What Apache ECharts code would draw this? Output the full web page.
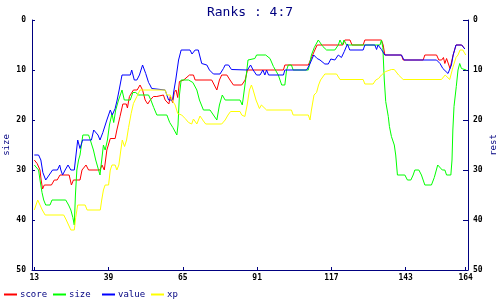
<!DOCTYPE html>
<html>
<head>
<meta charset="utf-8">
<script src="https://cdn.jsdelivr.net/npm/echarts@6/dist/echarts.min.js"></script>
<style>html,body{margin:0;padding:0;background:#fff}#c{width:500px;height:300px}</style>
</head>
<body>
<div id="c"></div>
<script>
var titleText = 'Ranks : 4:7';
var seriesNames = ['score', 'size', 'value', 'xp'];
var xTicks = [13, 39, 65, 91, 117, 143, 164];
var yTicks = [0, 10, 20, 30, 40, 50];

var scoreData = [[13,28],[14,28.7],[15,30],[15.4,32],[15.9,33.8],[16.5,33],[19,33],[20,32],[21,32],[22,31],[25.2,31],[26,33],[26.7,32],[29,32],[29.7,30],[31.1,29],[32,30],[36,30],[36.7,29],[37.5,30],[38.4,26],[39.6,23.7],[41.3,23.7],[41.9,22],[43,19.3],[44,16.8],[45.2,16.8],[45.6,17.6],[46.3,15.3],[47.7,14],[49,14],[50,13],[50.9,14],[51.8,16],[52.7,16.8],[53.6,16],[54.7,15.3],[55.9,15.3],[56.5,15],[58.2,15],[58.8,16],[59.4,16],[60.1,16.8],[60.6,15.3],[61.4,16.5],[62,14.5],[62.6,14],[63.2,15.5],[63.8,12.3],[64.5,12.5],[65.3,12],[66,11.9],[67.3,11],[68.7,11],[69.3,12],[75.1,12],[76.9,14],[77.8,12],[78.6,11],[80.4,11],[81.5,12],[82.7,13],[85.6,13],[86.8,12],[87.6,10],[100.2,10],[100.7,9],[108.9,9],[110.2,7.3],[111.2,6],[112,5],[121,5],[121.7,4],[123.5,4],[124.2,5],[128.1,5],[128.7,4],[134.5,4],[135.1,5],[135.7,7],[141.5,7],[142.1,8],[149.1,8],[149.7,7],[153.8,7],[154.6,8],[155.6,8],[156.2,7.5],[156.7,8.7],[157.3,7.7],[158.5,9.7],[159,9.5],[159.6,7],[160.6,5],[162.6,5],[163.7,5.8]];

var sizeData = [[13,29],[14.5,30],[15,32],[15.7,34.5],[16.3,36],[17,37],[18.5,37],[19.2,36],[24,36],[25,37],[25.8,38],[26.5,39.5],[27,41],[27.4,35],[27.9,30],[28.5,28],[29,27],[29.5,25],[30,23],[32,23],[32.6,24],[33.7,26],[34.5,28],[35.5,30],[36,31],[36.6,28],[37.2,25],[37.8,26],[38.6,24],[39.3,21],[40.2,18.7],[40.8,20.5],[41.5,18],[42.5,16],[43.7,14],[44.5,16],[46.6,16],[47.5,14.5],[48.5,14.5],[49.5,15],[53,15],[53.8,16],[54.8,17.5],[55.9,19],[59.4,19],[60.4,20.5],[61.5,21.5],[62.9,23],[63.3,21],[63.8,15],[64.4,12],[67,12],[68.5,12.5],[69.9,14],[70.8,16],[72.2,18],[74.5,18],[75.7,19],[76.9,20],[77.8,17],[78.8,15],[79.8,16],[85,16],[85.8,17],[86.5,14],[87.2,11],[87.8,8],[88.5,7.7],[90.2,7.7],[90.8,7],[94,7],[95.5,7.7],[96.7,9.3],[98.4,11],[99.6,13],[100.7,13],[101.3,10],[101.9,9],[103,9],[103.6,10],[108.9,10],[110,7],[111,5.5],[112.4,4],[113,4],[114,5.3],[115.3,6],[118.2,6],[119.4,5],[120,4],[120.8,5],[121.4,4],[122.3,5],[134,5],[134.5,4],[135,5.5],[135.5,12],[136,16.3],[136.9,19.3],[137.3,21.3],[138,23.3],[139,25],[139.5,27],[139.8,29],[140.1,31],[142.7,31],[143.6,32],[144.8,32],[145.6,31],[146.2,30],[147.6,30],[148.5,31],[149.7,33],[152,33],[153,31.5],[154.2,29],[154.9,29],[155.8,30],[156.7,30],[157.3,31],[158.8,31],[159.2,28],[159.5,22],[159.9,17.3],[160.7,13.3],[161.3,10],[161.9,8.7],[162.5,9.7],[163.1,10],[164.2,10]];

var valueData = [[13,27],[14.5,27],[15.3,28],[16,30.5],[17,32],[18.2,31],[19.4,30],[21.1,30],[21.9,29],[22.3,30],[22.9,31],[23.8,30],[24.8,29],[25.8,30],[27,30],[28.2,24],[29,25.7],[29.9,24],[33,24],[33.8,22],[35.3,23],[36,24],[37,22.5],[38.4,20],[39.6,18],[40.3,19],[41.3,17.7],[42,16],[42.7,14],[43.7,11],[46.6,11],[47.1,10],[48,12],[48.9,12],[49.8,11],[50.9,9],[52,10.7],[53,12.5],[53.5,13],[54.1,13.7],[54.6,14],[58.8,14],[59.4,15],[60,16],[61.4,16],[61.9,14],[62.5,12],[63,10],[63.5,8],[64.4,6],[67.5,6],[68.2,6.8],[69.3,6],[70.4,6],[71.6,8.7],[73.4,9],[74.3,10],[75.7,10.8],[78,10.8],[79.2,9.7],[79.8,9],[81,9],[82,9.9],[87.6,10],[88.7,9],[89.6,10],[90.8,11],[92,11],[93,10],[93.7,11],[94.3,10],[95,11],[100.2,11],[100.7,10],[108.3,10],[109.3,9],[110.8,7],[112,7.7],[113,8],[114.7,8.8],[115.9,8.8],[116.8,7.8],[118.2,8],[119.4,7],[120.5,7.5],[121.5,6.3],[122.6,4.8],[123.4,6],[128.1,6],[128.7,5],[132.2,5],[132.8,5.9],[133.3,5],[134.5,5.9],[135.7,7],[141.5,7],[142.4,8],[153.8,8],[155,8.7],[156,9.7],[156.7,9.7],[157.8,10.7],[158.3,11],[159,9],[159.6,7],[160.6,5],[162.6,5],[163.7,5.8]];

var xpData = [[13,38],[14.2,36],[15,37],[15.8,38],[16.8,39],[23.3,39],[24.2,40],[25,41],[25.8,42],[27,42],[27.5,39.5],[28.2,37],[30.8,37],[31.5,38],[36.1,38],[36.6,36],[37.2,34],[37.8,33],[39,33],[39.6,30],[40.2,29],[41.3,29],[41.9,30],[42.6,29],[43.3,26],[43.8,24],[44.6,25.3],[45.3,24],[46,21.5],[46.9,18.7],[47.7,16.7],[48.9,15.3],[50,14],[58.8,14],[59.4,15],[60.6,15],[61.2,16],[62.3,17],[63.2,18.7],[64.6,19],[65.8,19.7],[67,20.5],[68.1,20.8],[68.7,19.8],[69.9,20.8],[71,19.2],[72.2,20.2],[73,20.8],[78.6,20.8],[79.8,20],[80.8,19],[81.7,18.3],[85,18.3],[85.6,19],[86.7,19.3],[87.5,17],[88.3,14],[89,13],[89.6,14],[90.6,16],[91.8,17.7],[92.5,17],[93,17],[94.3,18],[103,18],[103.6,19],[108.9,19],[109.5,20],[110,18],[110.9,15],[111.8,14.5],[112.5,13],[113.2,12],[114.7,10.8],[118.8,10.8],[120,11.9],[128.1,11.9],[128.7,12.8],[131.6,12.8],[132.5,12],[133.5,11.7],[134.5,11],[136,10.3],[138,9.9],[139,9.9],[140.5,11],[142.1,11.9],[155.5,11.9],[156.8,11],[158.4,11.9],[159.5,9.5],[160.6,7.5],[161.3,7],[162,6],[163,6],[164,7]];

var colors = ['#ff0000', '#00ff00', '#0000ff', '#ffff00'];
var dataList = [scoreData, sizeData, valueData, xpData];
var navy = '#000080';
var mono = 'DejaVu Sans Mono';

var chart = echarts.init(document.getElementById('c'), null, {renderer: 'canvas'});

var legendLefts = [4, 53, 102, 151];
var legends = seriesNames.map(function (n, i) {
  return {
    data: [n], left: legendLefts[i], top: 290, orient: 'horizontal',
    icon: 'rect', itemWidth: 13, itemHeight: 2, itemGap: 0, padding: 0,
    textStyle: {fontFamily: mono, fontSize: 9, color: navy, padding: [0, 0, 0, -2]}
  };
});

function yAxisDef(pos, name, tickLen, margin) {
  return {
    type: 'value', position: pos, inverse: true, min: 0, max: 50, interval: 10,
    name: name, nameLocation: 'middle', nameGap: 21, nameRotate: 90, nameMoveOverlap: false,
    nameTextStyle: {fontFamily: mono, fontSize: 9, color: navy},
    axisLine: {show: true, lineStyle: {color: navy, width: 1}},
    axisTick: {show: true, inside: true, length: tickLen, lineStyle: {color: navy}},
    axisLabel: {fontFamily: mono, fontSize: 8, fontWeight: 'bold', color: '#000', margin: margin},
    splitLine: {show: false}
  };
}

var option = {
  animation: false,
  backgroundColor: '#fff',
  title: {
    text: titleText, left: 'center', top: 1,
    textStyle: {fontFamily: mono, fontSize: 13, fontWeight: 'normal', color: navy}
  },
  legend: legends,
  grid: {left: 32, right: 32, top: 20, bottom: 30, containLabel: false, outerBoundsMode: 'none'},
  xAxis: {
    type: 'value', min: 12.2, max: 164.8,
    axisLine: {show: true, onZero: false, lineStyle: {color: navy, width: 1}},
    axisTick: {show: true, inside: true, length: 3, customValues: xTicks, lineStyle: {color: navy}},
    axisLabel: {customValues: xTicks, fontFamily: mono, fontSize: 8, fontWeight: 'bold', color: '#000', margin: 4},
    splitLine: {show: false}
  },
  yAxis: [yAxisDef('left', 'size', 3, 6), yAxisDef('right', 'rest', 5, 5)],
  series: seriesNames.map(function (n, i) {
    return {
      name: n, type: 'line', yAxisIndex: 0, data: dataList[i],
      showSymbol: false, symbol: 'none', smooth: false,
      lineStyle: {color: colors[i], width: 1},
      itemStyle: {color: colors[i]}
    };
  })
};
chart.setOption(option);
</script>
</body>
</html>
